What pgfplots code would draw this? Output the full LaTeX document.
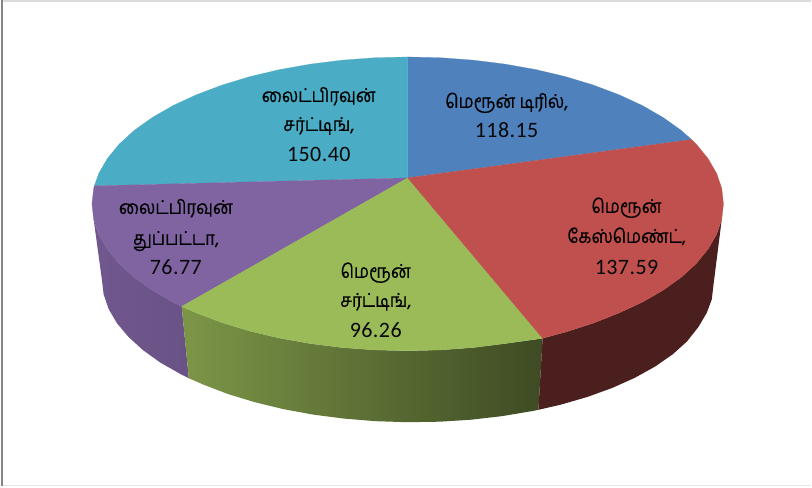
\documentclass[border=0pt]{standalone}
\usepackage{pgfplots}
\pgfplotsset{compat=1.18}
\usepackage{fontspec}
\setmainfont{Carlito}
\newfontfamily\tamil[Script=Tamil,FakeStretch=0.89,FakeBold=0.35]{Hind Madurai}
\definecolor{cblue}{HTML}{4F81BD}
\definecolor{cred}{HTML}{C0504D}
\definecolor{cgreen}{HTML}{9BBB59}
\definecolor{cpurple}{HTML}{8064A2}
\definecolor{cteal}{HTML}{4BACC6}
\definecolor{sred}{HTML}{4A1F1E}
\newcommand{\ta}[4]{\node[anchor=base,inner sep=0pt,text=black] at (axis cs:#1,#2) {\fontsize{#4}{#4}\tamil #3};}
\newcommand{\nm}[3]{\node[anchor=base,inner sep=0pt,text=black!97] at (axis cs:#1,#2) {\addfontfeature{LetterSpace=2}\fontsize{22}{22}\selectfont #3};}
\begin{document}
\begin{tikzpicture}
\begin{axis}[hide axis,scale only axis,clip=false,width=812pt,height=488pt,
  xmin=0,xmax=812,ymin=0,ymax=488,y dir=reverse]
\addplot[fill=white,draw=none] coordinates {(0,0)(812,0)(812,488)(0,488)} --cycle;
% frame
\addplot[fill=black!48,draw=none] coordinates {(1,0)(3,0)(3,486)(1,486)} --cycle;
\addplot[draw=black!14,line width=1.2pt] coordinates {(3,1)(812,1)};
\addplot[draw=black!10,line width=1.2pt] coordinates {(3,485.5)(812,485.5)};
% sides
\addplot[draw=none,left color=cpurple!88!black,right color=cpurple!82!black] coordinates {
(181.8,306.7)(173.2,302.4)(152.4,290.4)(134.3,277.5)(119.3,263.8)(107.5,249.4)(98.9,234.6)(93.7,219.4)
(102,280)(103.7,294.6)(108.7,309.2)(117,323.4)(128.5,337.1)(143,350.3)(160.4,362.8)(180.6,374.3)(189,378.5)} --cycle;
\addplot[draw=none,left color=cgreen!80!black,middle color=cgreen!63!black,right color=cgreen!40!black] coordinates {
(181.8,306.7)(196.6,313.2)(222.3,322.9)(250,331.3)(279.5,338.3)(310.4,343.8)(342.3,347.8)(375,350.2)(408,351)(441,350.2)(473.7,347.8)(505.6,343.8)(536.5,339.5)(543,338.5)
(538.8,410.1)(532.4,411.4)(502.6,416.4)(471.6,420)(440,422)(408,422.5)(376,421.5)(344.4,418.9)(313.4,414.9)(283.6,409.4)(255,402.5)(228.1,394.3)(203.3,384.8)(189,378.5)} --cycle;
\addplot[fill=sred,draw=none] coordinates {
(543,338.5)(566,332.3)(593.7,323.4)(619.4,313.2)(642.8,302.4)(663.6,290.4)(681.7,277.5)(696.7,263.8)(708.5,249.4)(717.1,234.6)(722.3,219.4)
(714,285)(712.3,299.6)(707.3,313)(699,327.1)(687.5,341.7)(673,354.7)(655.6,366.8)(635.4,378)(612.7,388.2)(587.9,397.2)(561,405)(538.8,410.1)} --cycle;
% top
\addplot[fill=cblue,draw=cblue,line width=0.2pt] coordinates {(408,178)
(692,139.6)(681.7,130.5)(663.6,117.6)(642.8,105.6)(619.4,94.8)(593.7,85.1)(566,76.7)(536.5,69.7)(505.6,64.2)(473.7,60.2)(441,57.8)(408,57)} --cycle;
\addplot[fill=cteal,draw=cteal,line width=0.2pt] coordinates {(408,178)
(408,57)(375,57.8)(342.3,60.2)(310.4,64.2)(279.5,69.7)(250,76.7)(222.3,85.1)(196.6,94.8)(173.2,105.6)(152.4,117.6)(134.3,130.5)(119.3,144.2)(107.5,158.6)(98.9,173.4)(94.4,186)} --cycle;
\addplot[fill=cpurple,draw=cpurple,line width=0.2pt] coordinates {(408,178)
(94.4,186)(93.7,188.6)(92,204)(93.7,219.4)(98.9,234.6)(107.5,249.4)(119.3,263.8)(134.3,277.5)(152.4,290.4)(173.2,302.4)(181.8,306.7)} --cycle;
\addplot[fill=cgreen,draw=cgreen,line width=0.2pt] coordinates {(408,178)
(181.8,306.7)(196.6,313.2)(222.3,322.9)(250,331.3)(279.5,338.3)(310.4,343.8)(342.3,347.8)(375,350.2)(408,351)(441,350.2)(473.7,347.8)(505.6,343.8)(536.5,339.5)(543,338.5)} --cycle;
\addplot[fill=cred,draw=cred,line width=0.2pt] coordinates {(408,178)
(543,338.5)(566,332.3)(593.7,323.4)(619.4,313.2)(642.8,302.4)(663.6,290.4)(681.7,277.5)(696.7,263.8)(708.5,249.4)(717.1,234.6)(722.3,219.4)(724,204)(722.3,188.6)(717.1,173.4)(708.5,158.6)(696.7,144.2)(692,139.6)} --cycle;
% labels
\ta{507}{108}{மெரூன் டிரில்,}{19}
\nm{507}{138}{118.15}
\ta{627}{213}{மெரூன்}{19}
\ta{627}{243}{கேஸ்மெண்ட்,}{19}
\nm{627}{275}{137.59}
\ta{376}{278}{மெரூன்}{19}
\ta{376}{307}{சர்ட்டிங்,}{19}
\nm{376}{338}{96.26}
\ta{176}{214}{லைட்பிரவுன்}{19}
\ta{176}{245}{துப்பட்டா,}{19}
\nm{176}{275}{76.77}
\ta{319}{102}{லைட்பிரவுன்}{19}
\ta{319}{131}{சர்ட்டிங்,}{19}
\nm{319}{162}{150.40}
\end{axis}
\end{tikzpicture}
\end{document}
